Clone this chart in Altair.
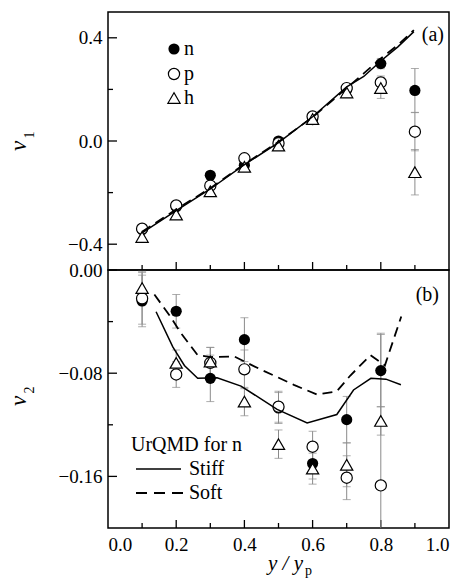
import altair as alt
import pandas as pd

FONT = "Liberation Serif, Times New Roman, DejaVu Serif, serif"

# ---------------- data ----------------
xa = [0.1, 0.2, 0.3, 0.4, 0.5, 0.6, 0.7, 0.8, 0.9]
v1_n = [-0.343, -0.255, -0.133, -0.094, 0.0, 0.083, 0.200, 0.300, 0.196]
v1_p = [-0.340, -0.250, -0.173, -0.067, -0.009, 0.095, 0.205, 0.227, 0.036]
v1_h = [-0.372, -0.285, -0.195, -0.100, -0.018, 0.085, 0.188, 0.205, -0.121]
e1_n = [0.010, 0.012, 0.012, 0.012, 0.012, 0.012, 0.015, 0.020, 0.085]
e1_p = [0.010, 0.012, 0.012, 0.012, 0.012, 0.012, 0.015, 0.025, 0.074]
e1_h = [0.012, 0.015, 0.015, 0.015, 0.015, 0.015, 0.020, 0.040, 0.088]

xb = [0.1, 0.2, 0.3, 0.4, 0.5, 0.6, 0.7, 0.8]
v2_n = [-0.024, -0.032, -0.084, -0.054, -0.107, -0.150, -0.116, -0.078]
v2_p = [-0.022, -0.081, -0.072, -0.077, -0.106, -0.137, -0.161, -0.167]
v2_h = [-0.014, -0.072, -0.071, -0.102, -0.135, -0.154, -0.151, -0.117]
e2_n = [0.020, 0.013, 0.018, 0.017, 0.012, 0.012, 0.018, 0.028]
e2_p = [0.020, 0.010, 0.012, 0.015, 0.012, 0.012, 0.017, 0.118]
e2_h = [0.013, 0.010, 0.011, 0.011, 0.011, 0.012, 0.017, 0.011]

# UrQMD curves
sa_x = [0.1, 0.2, 0.3, 0.4, 0.5, 0.6, 0.7, 0.75, 0.8, 0.85, 0.897]
sa_y = [-0.356, -0.270, -0.186, -0.092, -0.006, 0.094, 0.210, 0.250, 0.310, 0.365, 0.424]
fa_x = [0.1, 0.2, 0.3, 0.4, 0.5, 0.6, 0.7, 0.75, 0.8, 0.85, 0.897]
fa_y = [-0.352, -0.265, -0.183, -0.090, -0.003, 0.092, 0.205, 0.262, 0.320, 0.372, 0.430]

sb_x = [0.141, 0.19, 0.224, 0.263, 0.32, 0.39, 0.496, 0.584, 0.671, 0.72, 0.771, 0.815, 0.859]
sb_y = [-0.0324, -0.0596, -0.074, -0.084, -0.0836, -0.090, -0.108, -0.1186, -0.112, -0.093, -0.084, -0.0846, -0.089]
fb_x = [0.136, 0.18, 0.214, 0.263, 0.30, 0.37, 0.447, 0.545, 0.613, 0.671, 0.71, 0.77, 0.812, 0.86]
fb_y = [-0.019, -0.035, -0.049, -0.066, -0.0675, -0.067, -0.077, -0.089, -0.0966, -0.094, -0.082, -0.066, -0.074, -0.036]

x_major = [0.2, 0.4, 0.6, 0.8]
x_minor = [0.1, 0.3, 0.5, 0.7, 0.9]
ya_major = [-0.4, 0.0, 0.4]
ya_minor = [-0.2, 0.2]
yb_major = [-0.16, -0.08]
yb_minor = [-0.12, -0.04]

W, H = 341, 258
GRAY = "#8a8a8a"

MINUS = "replace(datum.label, '-', '\u2212\u2009')"


def pts(xs, vs, es):
    return pd.DataFrame({"x": xs, "v": vs,
                         "lo": [v - e for v, e in zip(vs, es)],
                         "hi": [v + e for v, e in zip(vs, es)]})


def panel(xs, groups, lines, ydom, ymaj, ymin, yfmt, xaxis_labels, extras):
    xs_ = alt.Scale(domain=[0, 1])
    ys_ = alt.Scale(domain=ydom)
    if xaxis_labels:
        xax = alt.Axis(values=[0, 0.2, 0.4, 0.6, 0.8, 1.0], format=".1f", ticks=False,
                       domain=False, grid=False, title=None, labelPadding=7)
    else:
        xax = None
    yax = alt.Axis(values=ymaj, format=yfmt, ticks=False, domain=False, grid=False,
                   title=None, labelExpr=MINUS, labelPadding=6)

    def X(f):
        return alt.X(f, type="quantitative", scale=xs_, axis=xax)

    def Y(f):
        return alt.Y(f, type="quantitative", scale=ys_, axis=yax)

    layers = []
    base = pd.DataFrame({"x": [0, 1], "v": ydom})
    layers.append(alt.Chart(base).mark_point(opacity=0).encode(x=X("x"), y=Y("v")))
    # inward ticks
    for vals, ln in ((x_major, 8), (x_minor, 5)):
        d = pd.DataFrame({"t": vals})
        layers.append(alt.Chart(d).mark_rule(color="black", strokeWidth=1.3).encode(
            x=X("t"), y=alt.value(H), y2=alt.value(H - ln)))
    for vals, ln in ((ymaj, 9), (ymin, 5)):
        d = pd.DataFrame({"t": vals})
        layers.append(alt.Chart(d).mark_rule(color="black", strokeWidth=1.3).encode(
            y=Y("t"), x=alt.value(0), x2=alt.value(ln)))
    # error bars
    for df in groups:
        layers.append(alt.Chart(df).mark_rule(color=GRAY, strokeWidth=1, clip=True).encode(
            x=X("x"), y=Y("lo"), y2=alt.Y2("hi")))
        for c in ("lo", "hi"):
            layers.append(alt.Chart(df).mark_tick(orient="horizontal", size=8, thickness=1,
                                                  color=GRAY, clip=True).encode(
                x=X("x"), y=Y(c)))
    # markers
    n_df, p_df, h_df = groups
    layers.append(alt.Chart(n_df).mark_point(shape="circle", filled=True, color="black",
                                             size=125, opacity=1).encode(x=X("x"), y=Y("v")))
    layers.append(alt.Chart(p_df).mark_point(shape="circle", filled=True, fill="white",
                                             stroke="black", strokeWidth=1.2, size=125,
                                             opacity=1).encode(x=X("x"), y=Y("v")))
    layers.append(alt.Chart(h_df).mark_point(shape="triangle-up", filled=True, fill="white",
                                             stroke="black", strokeWidth=1.2, size=150,
                                             opacity=1).encode(x=X("x"), y=Y("v")))
    # model curves
    (sx, sy), (fx, fy) = lines
    layers.append(alt.Chart(pd.DataFrame({"x": sx, "v": sy})).mark_line(
        color="black", strokeWidth=1.5).encode(x=X("x"), y=Y("v")))
    layers.append(alt.Chart(pd.DataFrame({"x": fx, "v": fy})).mark_line(
        color="black", strokeWidth=1.8, strokeDash=[10, 6]).encode(x=X("x"), y=Y("v")))
    layers.extend(extras)
    return alt.layer(*layers).properties(width=W, height=H)


one = pd.DataFrame({"a": [0]})


def txt(s, x, y, size=20, align="left", baseline="alphabetic", style="normal", angle=0):
    kw = dict(text=s, fontSize=size, align=align, baseline=baseline, font=FONT,
              fontStyle=style, color="black")
    if angle:
        kw["angle"] = angle
    return alt.Chart(one).mark_text(**kw).encode(x=alt.value(x), y=alt.value(y))


# ---------- panel (a) extras ----------
extras_a = [
    alt.Chart(one).mark_point(shape="circle", filled=True, color="black", size=125,
                              opacity=1).encode(x=alt.value(66), y=alt.value(37)),
    alt.Chart(one).mark_point(shape="circle", filled=True, fill="white", stroke="black",
                              strokeWidth=1.2, size=125, opacity=1).encode(x=alt.value(66), y=alt.value(62)),
    alt.Chart(one).mark_point(shape="triangle-up", filled=True, fill="white", stroke="black",
                              strokeWidth=1.2, size=150, opacity=1).encode(x=alt.value(66), y=alt.value(86)),
    txt("n", 76, 37, 20, baseline="middle"),
    txt("p", 76, 62, 20, baseline="middle"),
    txt("h", 76, 86, 20, baseline="middle"),
    txt("(a)", 336, 29, 20, align="right"),
    txt("v", -82, 134, 23, align="center", style="italic", angle=270),
    txt("1", -74, 123, 14, align="center", angle=270),
]

# ---------- panel (b) extras ----------
extras_b = [
    txt("UrQMD for n", 23, 181, 20),
    alt.Chart(one).mark_rule(color="black", strokeWidth=1.5).encode(
        x=alt.value(28), x2=alt.value(73), y=alt.value(199)),
    alt.Chart(one).mark_rule(color="black", strokeWidth=1.8, strokeDash=[11, 7]).encode(
        x=alt.value(28), x2=alt.value(75), y=alt.value(223)),
    txt("Stiff", 81, 205, 20),
    txt("Soft", 81, 229, 20),
    txt("(b)", 331, 31, 20, align="right"),
    txt("v", -82, 131, 23, align="center", style="italic", angle=270),
    txt("2", -74, 120, 14, align="center", angle=270),
    txt("y / y", 195, 300, 21, align="right", style="italic"),
    txt("p", 197, 305, 14),
]

groups_a = [pts(xa, v1_n, e1_n), pts(xa, v1_p, e1_p), pts(xa, v1_h, e1_h)]
groups_b = [pts(xb, v2_n, e2_n), pts(xb, v2_p, e2_p), pts(xb, v2_h, e2_h)]

pa = panel(xa, groups_a, ((sa_x, sa_y), (fa_x, fa_y)), [-0.5, 0.5], ya_major, ya_minor,
           ".1f", False, extras_a)
pb = panel(xb, groups_b, ((sb_x, sb_y), (fb_x, fb_y)), [-0.2, 0.0], yb_major + [0.0], yb_minor,
           ".2f", True, extras_b)

chart = alt.vconcat(pa, pb, spacing=0, bounds="flush").configure(
    padding={"left": 7, "top": 8, "right": 10, "bottom": 0},
    background="white",
).configure_view(stroke="black", strokeWidth=1.5).configure_axis(
    labelFont=FONT, labelFontSize=19, labelColor="black"
)

chart.save("out.html", embed_options={"renderer": "svg", "actions": False})
